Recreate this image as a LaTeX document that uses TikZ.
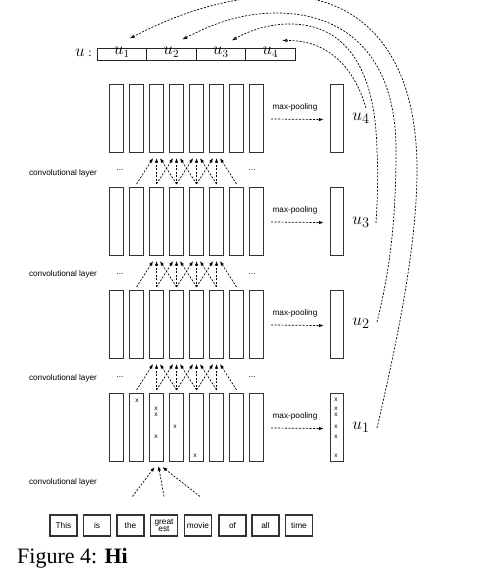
\documentclass[tikz,border=0pt]{standalone}
\usepackage{fontspec}
\setmainfont{Liberation Serif}
\setsansfont{Liberation Sans}
\usetikzlibrary{arrows.meta,calc}
\tikzset{
 col/.style={draw=black!80, line width=1.1pt, minimum width=14pt, minimum height=68pt, inner sep=0pt, anchor=north west},
 wordbox/.style={draw=black!80, line width=1.1pt, minimum width=27pt, minimum height=21pt, inner sep=0pt, font=\sffamily\fontsize{8.3}{8.5}\selectfont, align=center},
 cell/.style={draw=black!85, line width=1pt, minimum width=49.5pt, minimum height=12pt, inner sep=0pt},
 lbl/.style={font=\sffamily\fontsize{8.2}{9}\selectfont, inner sep=0pt},
 xm/.style={font=\sffamily\fontsize{6.5}{7}\selectfont, inner sep=0pt},
 dsh/.style={dash pattern=on 2pt off 1.5pt, line width=0.7pt},
 conv/.style={dsh, -{Latex[length=4.5pt,width=3.5pt]}},
 big/.style={font=\fontsize{19}{20}\selectfont, inner sep=0pt},
 mid/.style={font=\fontsize{16}{17}\selectfont, inner sep=0pt},
 back/.style={dsh, -{Latex[length=5pt,width=3.5pt,open,fill=black!35]}}
}
\begin{document}
\begin{tikzpicture}[x=1pt,y=-1pt]
\useasboundingbox (0,0) rectangle (484,584);
% columns
\foreach \L/\t in {1/393,2/290,3/187,4/84} {
  \foreach \i in {1,...,8} {
    \node[col] (c\L-\i) at ({109+20*(\i-1)},\t) {};
  }
  \node[col, minimum width=13pt] (p\L) at (329.5,\t) {};
  \node[lbl] (mp\L) at (295,\t+23) {max-pooling};
  \coordinate (ms\L) at (271,\t+35);
  \draw[dsh, -{Latex[length=4.5pt,width=3.5pt]}] (ms\L) -- ($(p\L.west)+(-6,1)$);
}
% convolution arrows between layers
\foreach \L/\U in {1/2,2/3,3/4} {
  \foreach \c in {3,4,5,6} {
    \foreach \d/\o in {-1/-3.5,0/0,1/3.5} {
      \pgfmathtruncatemacro\s{\c+\d}
      \draw[conv] ($(c\L-\s.north)+(0,-3)$) -- ($(c\U-\c.south)+(\o,5)$);
    }
  }
}
% dots and labels
\foreach \y/\n in {170/a,274/b,377/c} {
  \node[lbl] (dl\n) at (120,\y) {...};
  \node[lbl] (dr\n) at (252,\y) {...};
}
\node[lbl] (cl4) at (63,173) {convolutional layer};
\node[lbl] (cl3) at (63,274) {convolutional layer};
\node[lbl] (cl2) at (63,378) {convolutional layer};
\node[lbl] (cl1) at (63,482) {convolutional layer};
% words
\node[wordbox] (w1) at (63.5,525.5) {This};
\node[wordbox] (w2) at (97,525.5) {is};
\node[wordbox] (w3) at (130.5,525.5) {the};
\node[wordbox] (w4) at (164,525.5) {great\\[-1.5pt]est};
\node[wordbox] (w5) at (198,525.5) {movie};
\node[wordbox] (w6) at (232.5,525.5) {of};
\node[wordbox] (w7) at (265.5,525.5) {all};
\node[wordbox] (w8) at (299,525.5) {time};
\draw[conv] ($(w3.north)+(2,-18)$) -- ($(c1-3.south)+(-2,5)$);
\draw[conv] ($(w4.north)+(0,-18)$) -- ($(c1-3.south)+(2,4)$);
\draw[conv] ($(w5.north)+(2,-18)$) -- ($(c1-3.south)+(6,5)$);
% x marks in first layer
\node[xm] (x1) at (137,401) {x};
\node[xm] (x2) at (156,409) {x};
\node[xm] (x3) at (156,415) {x};
\node[xm] (x4) at (156,437) {x};
\node[xm] (x5) at (175,427) {x};
\node[xm] (x6) at (195,456) {x};
\foreach \y/\n in {400/a,409/b,415/c,427/d,437/e,456/f} {
  \node[xm] (px\n) at (336,\y) {x};
}
% pooled labels
\node[big] (l4) at (361,118) {$u_4$};
\node[big] (l3) at (361,222) {$u_3$};
\node[big] (l2) at (361,323) {$u_2$};
\node[big] (l1) at (361,427) {$u_1$};
% top vector
\node[big] (ulab) at (80,53) {$u$};
\node[font=\fontsize{12}{12}\selectfont, inner sep=0pt] (colon) at (90,54) {:};
\foreach \i in {1,2,3,4} {
  \node[cell] (u\i) at ({121.75+49.5*(\i-1)},54) {};
  \node[mid] (ut\i) at ($(u\i.center)+(0,-1.5)$) {$u_\i$};
}
\coordinate (t1) at ($(u1.north)+(8,-9)$);
\coordinate (t2) at ($(u2.north)+(11,-8)$);
\coordinate (t3) at ($(u3.north)+(11,-7)$);
\coordinate (t4) at ($(u4.north)+(12,-7)$);
\coordinate (s4) at (366,108);
\coordinate (s3) at (376,223);
\coordinate (s2) at (377,322);
\coordinate (s1) at (377,428);
\draw[back] (s4) .. controls (355,70) and (330,40) .. (t4);
\draw[back] (s3) .. controls (378,190) and (378,170) .. (377,150) .. controls (375,60) and (340,24) .. (290,24) .. controls (265,24) and (245,33) .. (t3);
\draw[back] (s2) .. controls (390,270) and (396,220) .. (396,150) .. controls (396,50) and (340,13) .. (277,13) .. controls (235,13) and (205,28) .. (t2);
\draw[back] (s1) .. controls (395,350) and (417,250) .. (417,170) .. controls (417,40) and (350,-4) .. (283,-4) .. controls (220,-4) and (165,20) .. (t1);
% caption
\node[anchor=base west, inner sep=0pt, font=\fontsize{22}{26}\selectfont] (cap) at (17,563) {Figure 4: \textbf{Hi}};
\end{tikzpicture}
\end{document}
